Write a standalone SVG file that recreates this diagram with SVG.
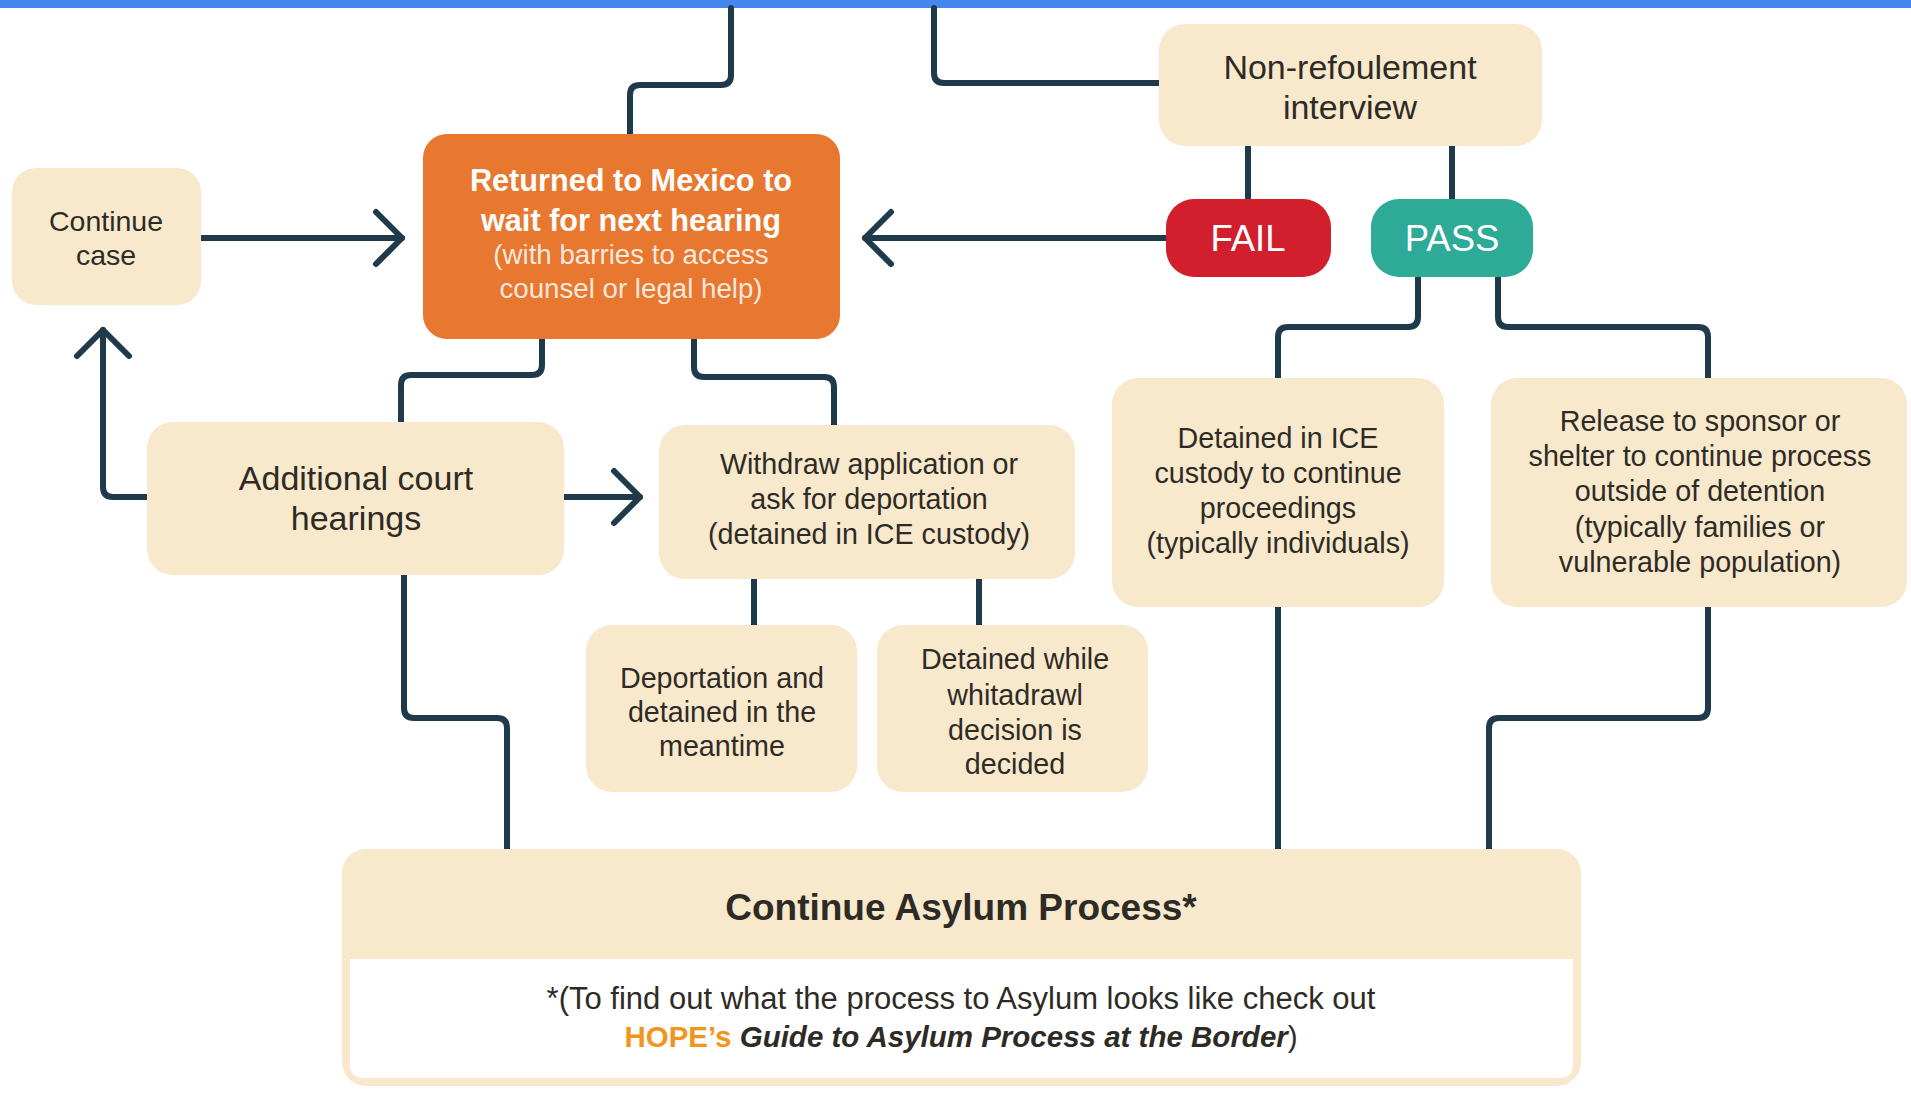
<svg xmlns="http://www.w3.org/2000/svg" width="1911" height="1095" viewBox="0 0 1911 1095">
<style>
.box{fill:#F8E9CC}
.t{font-family:"Liberation Sans",Arial,sans-serif;fill:#2E2B27;text-anchor:middle}
.w{font-family:"Liberation Sans",Arial,sans-serif;fill:#FFFFFF;text-anchor:middle}
.c{fill:none;stroke:#1F3A4A;stroke-width:6;stroke-linecap:round;stroke-linejoin:round}
.s{font-size:28.7px}
</style>
<defs>
<marker id="chev" markerUnits="userSpaceOnUse" markerWidth="70" markerHeight="70" viewBox="-35 -35 70 70" refX="0" refY="0" orient="auto" overflow="visible">
<path d="M -26 -26 L 0 0 L -26 26" fill="none" stroke="#1F3A4A" stroke-width="6" stroke-linecap="round" stroke-linejoin="round"/>
</marker>
</defs>
<rect x="0" y="0" width="1911" height="1095" fill="#FFFFFF"/>
<rect x="0" y="0" width="1911" height="8" fill="#4587EE"/>

<g id="connectors">
<path class="c" d="M 731 8 V 75 Q 731 85 721 85 H 640 Q 630 85 630 95 V 134"/>
<path class="c" d="M 934 8 V 73 Q 934 83 944 83 H 1159"/>
<path class="c" d="M 201 238 H 402" marker-end="url(#chev)"/>
<path class="c" d="M 1166 238 H 865" marker-end="url(#chev)"/>
<path class="c" d="M 1248 146 V 199"/>
<path class="c" d="M 1452 146 V 199"/>
<path class="c" d="M 1418 277 V 317 Q 1418 327 1408 327 H 1288 Q 1278 327 1278 337 V 378"/>
<path class="c" d="M 1498 277 V 317 Q 1498 327 1508 327 H 1698 Q 1708 327 1708 337 V 378"/>
<path class="c" d="M 542 339 V 365 Q 542 375 532 375 H 411 Q 401 375 401 385 V 422"/>
<path class="c" d="M 694 339 V 367 Q 694 377 704 377 H 824 Q 834 377 834 387 V 425"/>
<path class="c" d="M 147 497 H 113 Q 103 497 103 487 V 330" marker-end="url(#chev)"/>
<path class="c" d="M 564 497 H 640" marker-end="url(#chev)"/>
<path class="c" d="M 754 579 V 625"/>
<path class="c" d="M 979 579 V 625"/>
<path class="c" d="M 404 575 V 708 Q 404 718 414 718 H 497 Q 507 718 507 728 V 849"/>
<path class="c" d="M 1278 607 V 849"/>
<path class="c" d="M 1708 607 V 708 Q 1708 718 1698 718 H 1499 Q 1489 718 1489 728 V 849"/>
</g>

<g id="continue-case">
<rect class="box" x="12" y="168" width="189" height="137" rx="24"/>
<text class="t" font-size="28.5" x="106" y="231">Continue</text>
<text class="t" font-size="28.5" x="106" y="265">case</text>
</g>

<g id="returned-to-mexico">
<rect x="423" y="134" width="417" height="205" rx="24" fill="#E8772F"/>
<text class="w" font-size="30.7" font-weight="bold" x="631" y="191">Returned to Mexico to</text>
<text class="w" font-size="30.7" font-weight="bold" x="631" y="231">wait for next hearing</text>
<text class="w" font-size="27.7" x="631" y="264" fill-opacity="0.85">(with barries to access</text>
<text class="w" font-size="27.7" x="631" y="298" fill-opacity="0.85">counsel or legal help)</text>
</g>

<g id="non-refoulement">
<rect class="box" x="1159" y="24" width="383" height="122" rx="26"/>
<text class="t" font-size="34" x="1350" y="79">Non-refoulement</text>
<text class="t" font-size="34" x="1350" y="119">interview</text>
</g>

<g id="fail">
<rect x="1166" y="199" width="165" height="78" rx="28" fill="#D11F2D"/>
<text class="w" font-size="36.5" x="1248" y="251">FAIL</text>
</g>

<g id="pass">
<rect x="1371" y="199" width="162" height="78" rx="28" fill="#2EAB96"/>
<text class="w" font-size="36.5" x="1452" y="251">PASS</text>
</g>

<g id="additional-court-hearings">
<rect class="box" x="147" y="422" width="417" height="153" rx="26"/>
<text class="t" font-size="34" x="356" y="490">Additional court</text>
<text class="t" font-size="34" x="356" y="530">hearings</text>
</g>

<g id="withdraw-application">
<rect class="box" x="659" y="425" width="416" height="154" rx="26"/>
<text class="t s" x="869" y="474">Withdraw application or</text>
<text class="t s" x="869" y="509">ask for deportation</text>
<text class="t s" x="869" y="544">(detained in ICE custody)</text>
</g>

<g id="detained-in-ice">
<rect class="box" x="1112" y="378" width="332" height="229" rx="26"/>
<text class="t s" x="1278" y="448">Detained in ICE</text>
<text class="t s" x="1278" y="483">custody to continue</text>
<text class="t s" x="1278" y="518">proceedings</text>
<text class="t s" x="1278" y="553">(typically individuals)</text>
</g>

<g id="release-to-sponsor">
<rect class="box" x="1491" y="378" width="416" height="229" rx="26"/>
<text class="t s" x="1700" y="431">Release to sponsor or</text>
<text class="t s" x="1700" y="466">shelter to continue process</text>
<text class="t s" x="1700" y="501">outside of detention</text>
<text class="t s" x="1700" y="537">(typically families or</text>
<text class="t s" x="1700" y="572">vulnerable population)</text>
</g>

<g id="deportation-detained">
<rect class="box" x="586" y="625" width="271" height="167" rx="26"/>
<text class="t s" x="722" y="688">Deportation and</text>
<text class="t s" x="722" y="722">detained in the</text>
<text class="t s" x="722" y="756">meantime</text>
</g>

<g id="detained-while">
<rect class="box" x="877" y="625" width="271" height="167" rx="26"/>
<text class="t s" x="1015" y="669">Detained while</text>
<text class="t s" x="1015" y="705">whitadrawl</text>
<text class="t s" x="1015" y="740">decision is</text>
<text class="t s" x="1015" y="774">decided</text>
</g>

<g id="continue-asylum-process">
<rect class="box" x="342" y="849" width="1239" height="237" rx="24"/>
<path d="M 350 959 H 1573 V 1064 Q 1573 1078 1559 1078 H 364 Q 350 1078 350 1064 Z" fill="#FFFFFF"/>
<text class="t" font-size="37" font-weight="bold" x="961" y="920" fill="#1E1C1A">Continue Asylum Process*</text>
<text class="t" font-size="31" x="961" y="1009">*(To find out what the process to Asylum looks like check out</text>
<text class="t" font-size="29.5" x="961" y="1047"><tspan font-weight="bold" fill="#F0961E">HOPE’s</tspan> <tspan font-weight="bold" font-style="italic">Guide to Asylum Process at the Border</tspan>)</text>
</g>
</svg>
